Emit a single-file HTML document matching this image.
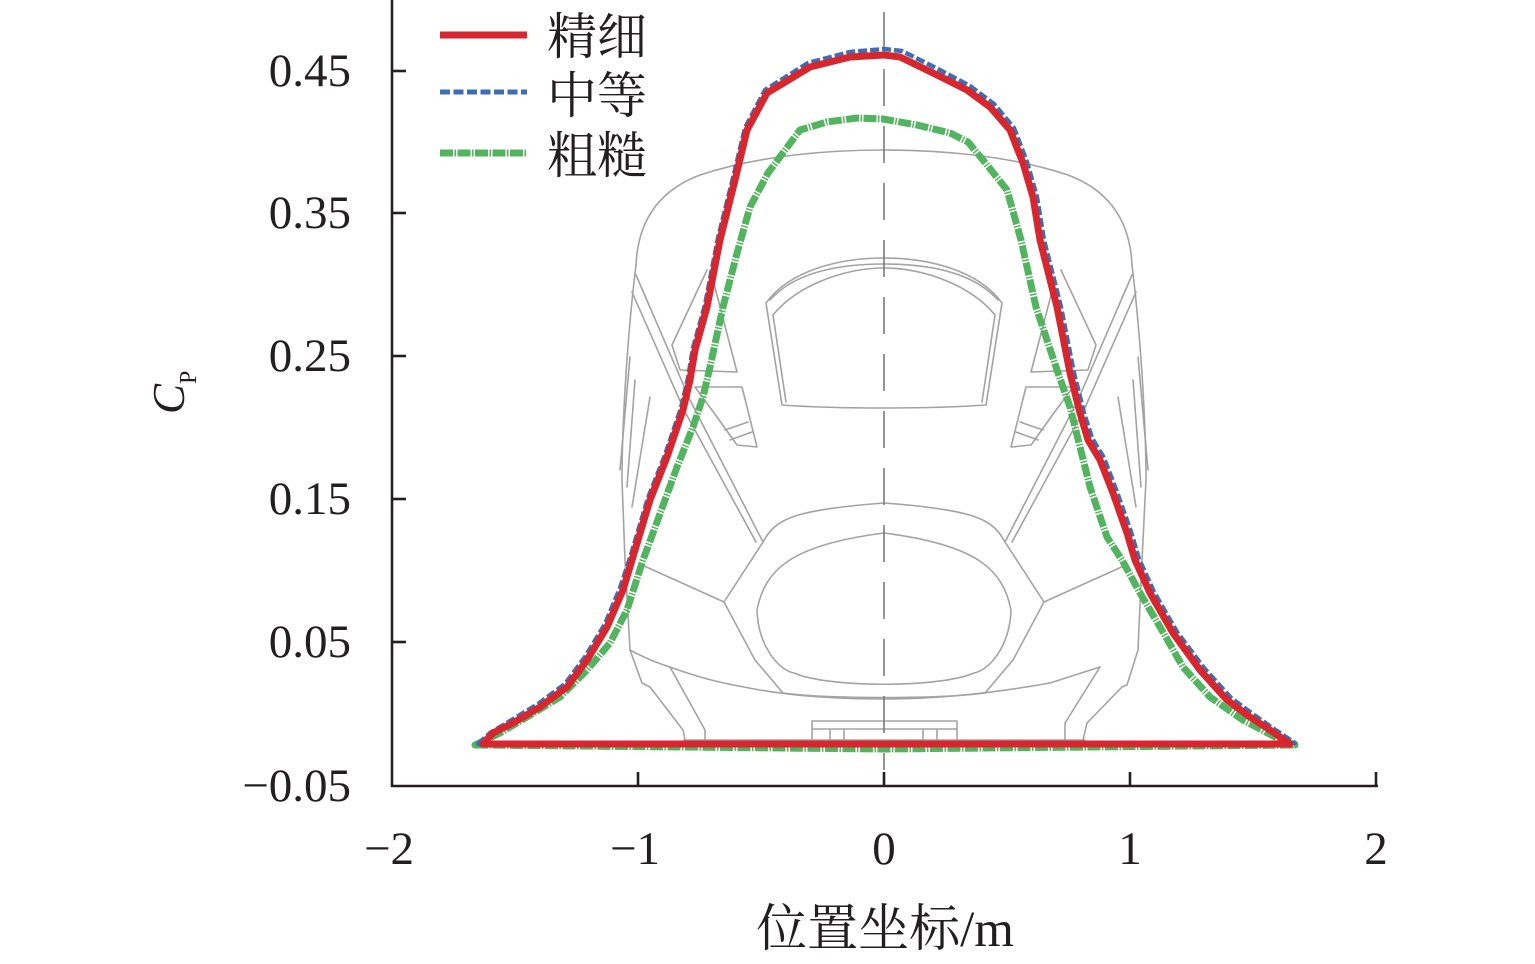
<!DOCTYPE html>
<html><head><meta charset="utf-8"><style>
html,body{margin:0;padding:0;background:#fff;}
svg{display:block;}
</style></head><body>
<svg width="1535" height="964" viewBox="0 0 1535 964" xmlns="http://www.w3.org/2000/svg">
<rect width="1535" height="964" fill="#fff"/>
<!-- train drawing -->
<g fill="none" stroke="#a3a3a3" stroke-width="1.6" stroke-linejoin="round" stroke-linecap="round">
  <path d="M636 265 C638 220,660 190,700 175 C760 155,830 150,884 150 C938 150,1008 155,1068 175 C1108 190,1130 220,1132 265"/>
  <path d="M636 265 C628 330,622 420,622 480 L625 560 L630 650 L642 683 L650 687 L683 730 L685 740"/>
  <path d="M1132 265 C1140 330,1146 420,1146 480 L1142 560 L1138 650 L1127 685 L1122 687 L1087 723 L1083 740"/>
  <path d="M630 650 C645 658,660 664,670 667 C700 678,720 683,760 690 C800 697,840 699,884 699 C940 699,1000 692,1050 683 L1100 667"/>
  <path d="M670 667 L705 730 L705 740"/>
  <path d="M1100 667 L1065 723 L1065 740"/>
  <path d="M684 740 L1085 740"/>
  <path d="M812 743 L812 721 L957 721 L957 743 M812 729 L957 729 M830 729 L830 743 M844 729 L844 743 M923 729 L923 743 M937 729 L937 743"/>
  <path d="M763 542 C775 520,790 510,884 503 C978 510,993 520,1005 542 L1044 602 L1013 660 L985 693 C940 699,828 699,783 693 L755 660 L724 602 Z"/>
  <path d="M757 610 C765 570,790 545,884 533 C978 545,1003 570,1011 610 C1010 645,990 670,974 673 C940 688,828 688,794 673 C778 670,758 645,757 610 Z"/>
  <path d="M724 602 L642 565 M1044 602 L1126 565"/>
  <path d="M636 275 L690 400 L763 542 M632 292 L684 410 L756 542"/>
  <path d="M1132 275 L1078 400 L1005 542 M1136 292 L1084 410 L1012 542"/>
  <path d="M782 405 L766 303 C790 270,840 258,884 258 C928 258,978 270,1002 303 L986 405 C930 409,838 409,782 405 Z"/>
  <path d="M770 300 C795 272,840 264,884 264 C928 264,973 272,998 300"/>
  <path d="M786 402 L773 315 C800 282,850 268,884 268 C918 268,968 282,995 315 L982 402"/>
  <path d="M707 270 L672 345 L680 370 L737 372 L713 280"/>
  <path d="M1061 270 L1096 345 L1088 370 L1031 372 L1055 280"/>
  <path d="M695 387 L742 387 L757 447 L737 445 L717 417 Z M725 430 L748 422 M730 440 L752 432"/>
  <path d="M1073 387 L1026 387 L1011 447 L1031 445 L1051 417 Z M1043 430 L1020 422 M1038 440 L1016 432"/>
  <path d="M630 357 L620 470 M635 380 L627 487 M650 397 L632 507"/>
  <path d="M1138 357 L1148 470 M1133 380 L1141 487 M1118 397 L1136 507"/>
</g>
<!-- center dashed line -->
<line x1="884" y1="12" x2="884" y2="770" stroke="#7a7a7a" stroke-width="1.6" stroke-dasharray="37 20"/>

<!-- green -->
<path d="M475 745 L500 733 L527 717 L560 697 L587 670 L610 643 L627 610 L643 560 L653 533 L665 500 L677 467 L693 427 L703 397 L710 367 L723 307 L736 257 L750 207 L768 173 L800 130 L827 122 L857 118 L883 119 L917 125 L950 133 L968 142 L983 160 L1007 190 L1021 240 L1036 307 L1057 370 L1070 407 L1080 447 L1090 487 L1107 537 L1122 560 L1140 593 L1160 627 L1183 667 L1210 697 L1243 720 L1277 738 L1295 745 L884 749 Z" fill="none" stroke="#52b45e" stroke-width="7" stroke-linejoin="round" stroke-dasharray="13 1.5 1.5 1.5"/>
<!-- blue -->
<path d="M478 744 L490 733 L510 721 L538 704 L565 684 L585 657 L605 624 L620 588 L630 558 L648 498 L665 455 L681 408 L688 378 L693 348 L705 305 L718 238 L733 178 L745 128 L765 90 L808 63 L850 52 L884 49 L902 51 L936 68 L970 86 L994 104 L1014 128 L1027 162 L1037 197 L1044 240 L1061 307 L1074 373 L1084 413 L1092 438 L1104 458 L1117 492 L1131 532 L1139 559 L1154 592 L1177 632 L1204 668 L1231 698 L1254 715 L1274 729 L1295 743 Z" fill="none" stroke="#3d6db5" stroke-width="4.5" stroke-linejoin="round" stroke-dasharray="9 3"/>
<!-- red -->
<path d="M483 744 L493 733 L513 723 L540 707 L567 687 L587 660 L607 627 L623 590 L632 560 L650 500 L667 457 L683 410 L690 380 L695 350 L707 307 L720 240 L735 180 L747 130 L767 93 L810 67 L850 57 L884 55 L900 57 L933 73 L967 90 L990 107 L1010 130 L1023 163 L1033 197 L1040 240 L1057 307 L1070 373 L1080 413 L1088 440 L1100 460 L1113 493 L1127 533 L1135 560 L1150 593 L1173 633 L1200 670 L1227 700 L1250 717 L1270 730 L1290 744 Z" fill="none" stroke="#d8262e" stroke-width="7" stroke-linejoin="round"/>

<!-- axes -->
<g stroke="#231f20" stroke-width="2.6" fill="none">
  <line x1="392" y1="0" x2="392" y2="787"/>
  <line x1="391" y1="786" x2="1378" y2="786"/>
  <line x1="392" y1="71" x2="406" y2="71"/>
  <line x1="392" y1="213" x2="406" y2="213"/>
  <line x1="392" y1="356" x2="406" y2="356"/>
  <line x1="392" y1="499" x2="406" y2="499"/>
  <line x1="392" y1="642" x2="406" y2="642"/>
  <line x1="638" y1="786" x2="638" y2="772"/>
  <line x1="884" y1="786" x2="884" y2="772"/>
  <line x1="1130" y1="786" x2="1130" y2="772"/>
  <line x1="1376" y1="786" x2="1376" y2="772"/>
</g>
<g font-family="'Liberation Serif', serif" font-size="47" fill="#231f20" text-anchor="end">
  <text x="351" y="86">0.45</text>
  <text x="351" y="228">0.35</text>
  <text x="351" y="371">0.25</text>
  <text x="351" y="514">0.15</text>
  <text x="351" y="657">0.05</text>
  <text x="351" y="801">−0.05</text>
</g>
<g font-family="'Liberation Serif', serif" font-size="47" fill="#231f20" text-anchor="middle">
  <text x="389" y="864">−2</text>
  <text x="635" y="864">−1</text>
  <text x="884" y="864">0</text>
  <text x="1130" y="864">1</text>
  <text x="1376" y="864">2</text>
</g>
<text x="885" y="946" text-anchor="middle" font-family="'Liberation Serif', 'Noto Serif CJK SC', serif" font-size="51" fill="#231f20">位置坐标/m</text>
<text transform="translate(184,414) rotate(-90)" font-family="'Liberation Serif', serif" font-size="45" fill="#231f20"><tspan font-style="italic">C</tspan><tspan font-size="24" dy="12">P</tspan></text>

<!-- legend -->
<line x1="440" y1="35" x2="527" y2="35" stroke="#d8262e" stroke-width="7"/>
<line x1="440" y1="92" x2="527" y2="92" stroke="#3d6db5" stroke-width="5" stroke-dasharray="10 3.5"/>
<line x1="440" y1="153" x2="527" y2="153" stroke="#52b45e" stroke-width="7" stroke-dasharray="13 1.5 1.5 1.5"/>
<g font-family="'Liberation Serif', 'Noto Serif CJK SC', serif" font-size="50" fill="#231f20">
  <text x="547" y="54">精细</text>
  <text x="547" y="113">中等</text>
  <text x="547" y="173">粗糙</text>
</g>
</svg>
</body></html>
